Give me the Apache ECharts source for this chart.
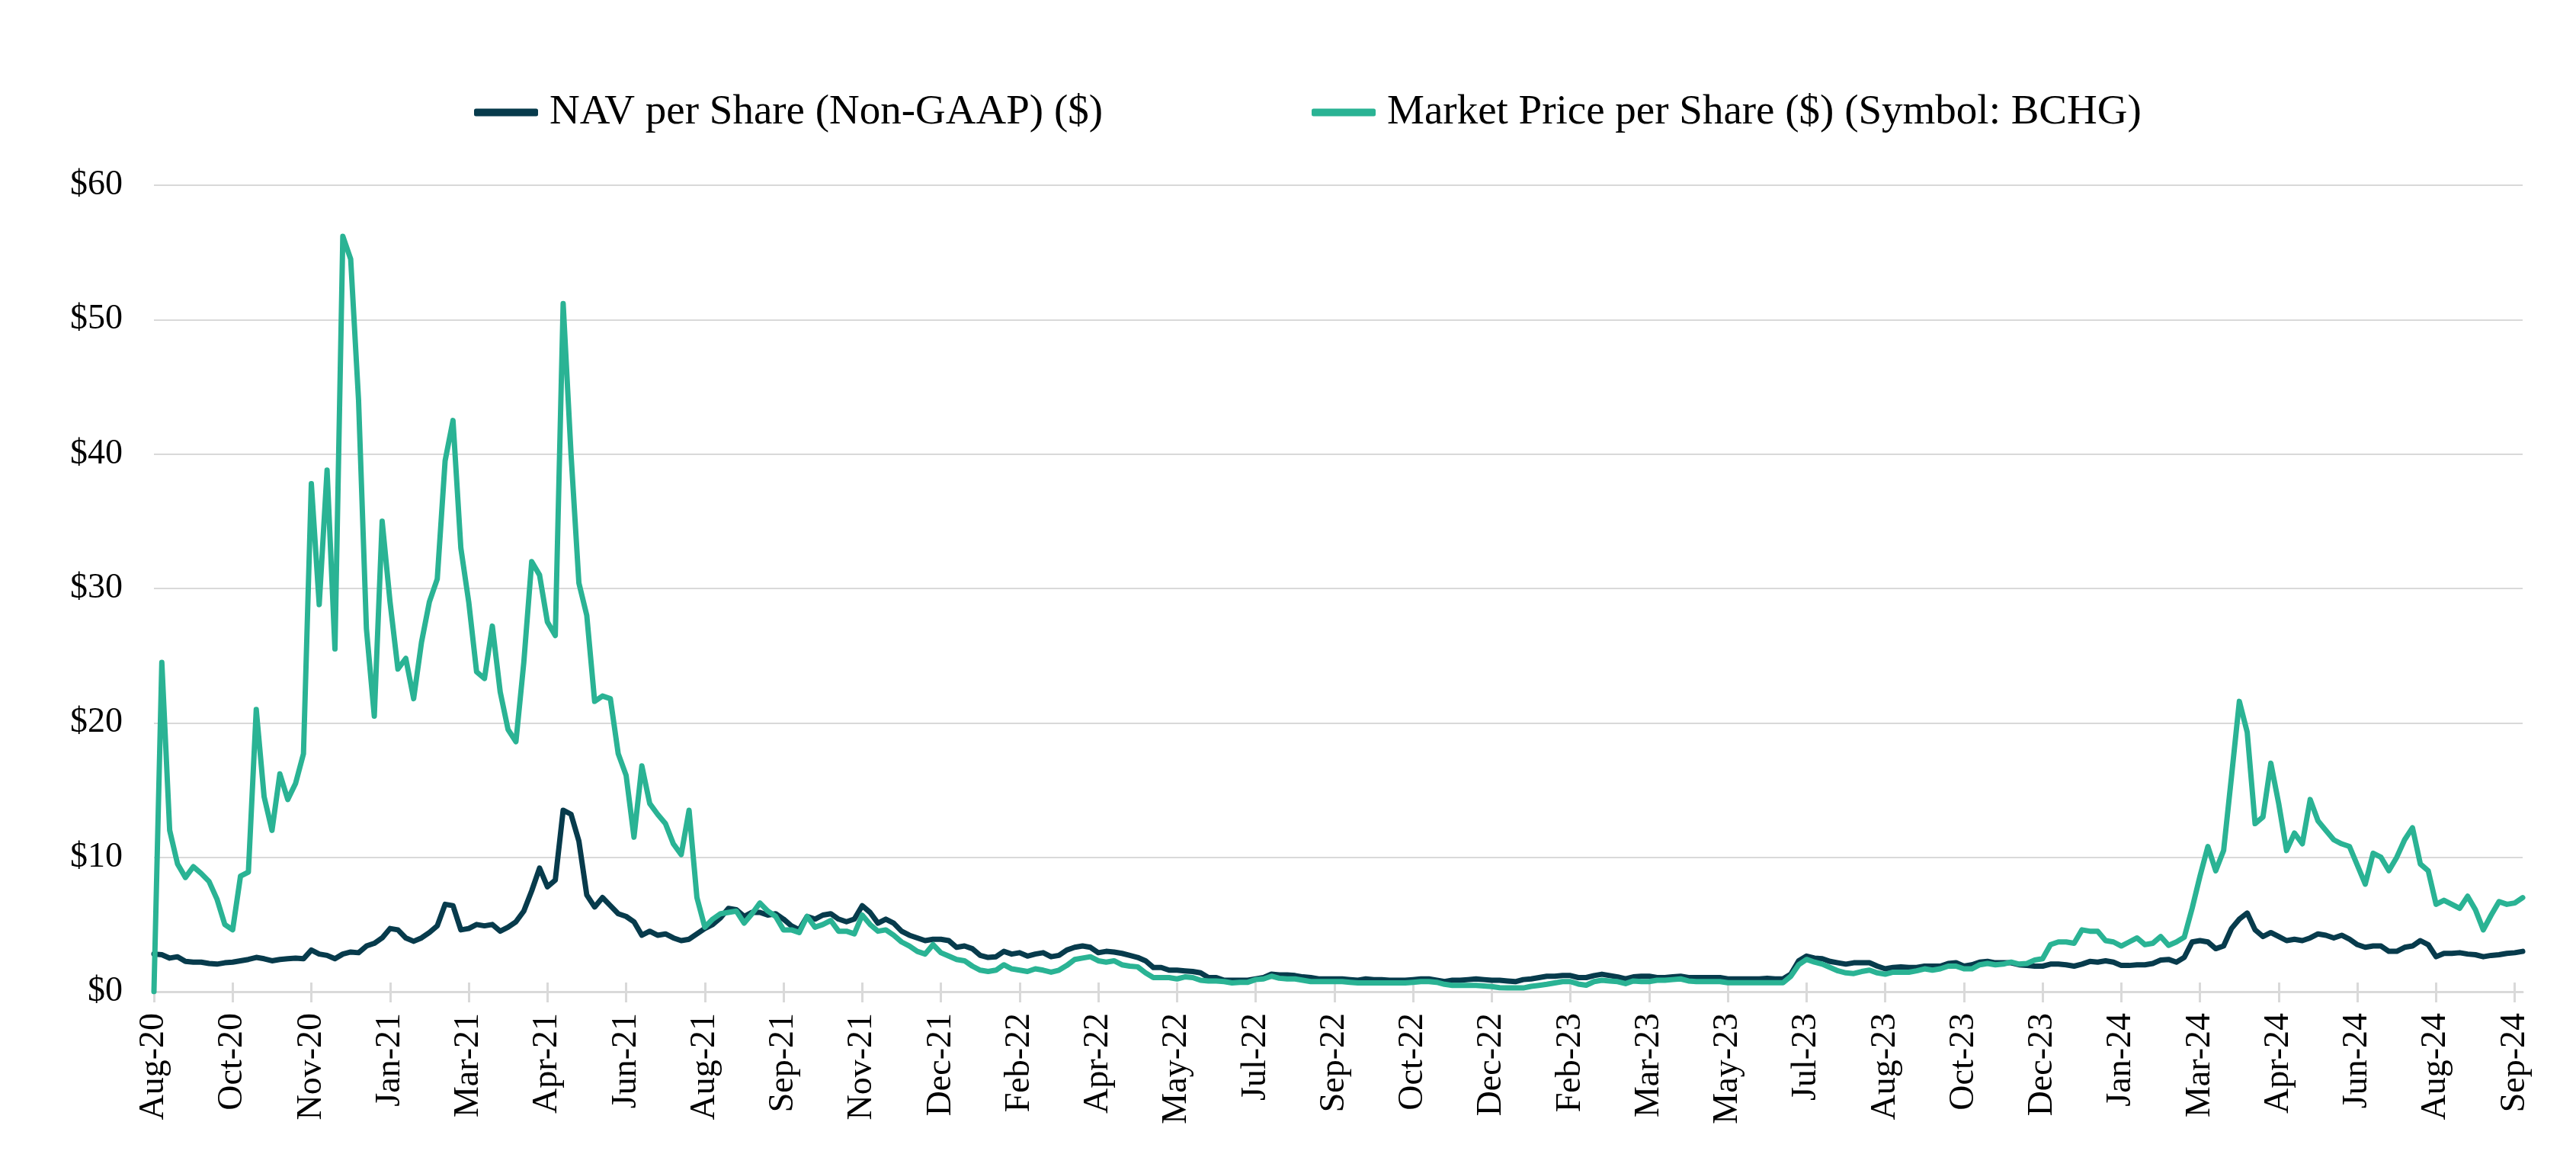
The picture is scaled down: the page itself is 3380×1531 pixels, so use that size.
<!DOCTYPE html>
<html>
<head>
<meta charset="utf-8">
<script src="https://cdn.jsdelivr.net/npm/echarts@6/dist/echarts.min.js"></script>
<style>
html,body{margin:0;padding:0;background:#fff;}
#chart{width:3380px;height:1531px;}
</style>
</head>
<body>
<div id="chart"></div>
<script>
const tickLabels = ['Aug-20','Oct-20','Nov-20','Jan-21','Mar-21','Apr-21','Jun-21','Aug-21','Sep-21','Nov-21',
  'Dec-21','Feb-22','Apr-22','May-22','Jul-22','Sep-22','Oct-22','Dec-22','Feb-23','Mar-23',
  'May-23','Jul-23','Aug-23','Oct-23','Dec-23','Jan-24','Mar-24','Apr-24','Jun-24','Aug-24','Sep-24'];

const navValues = [
  2.8,2.75,2.5,2.6,2.25,2.2,2.2,2.1,2.05,2.15,
  2.2,2.3,2.4,2.55,2.45,2.3,2.4,2.45,2.5,2.45,
  3.1,2.8,2.7,2.45,2.8,2.95,2.9,3.4,3.6,4.0,
  4.7,4.6,4.0,3.75,4.0,4.4,4.9,6.5,6.4,4.6,
  4.7,5.0,4.9,5.0,4.5,4.8,5.2,6.0,7.5,9.2,
  7.8,8.3,13.5,13.2,11.2,7.2,6.3,7.0,6.4,5.8,
  5.6,5.2,4.2,4.5,4.2,4.3,4.0,3.8,3.9,4.3,
  4.7,5.0,5.5,6.2,6.1,5.6,5.9,5.9,5.7,5.8,
  5.4,4.9,4.6,5.6,5.4,5.7,5.8,5.4,5.2,5.4,
  6.4,5.9,5.1,5.4,5.1,4.5,4.2,4.0,3.8,3.9,
  3.9,3.8,3.3,3.4,3.2,2.7,2.55,2.6,3.0,2.8,
  2.9,2.65,2.8,2.9,2.6,2.7,3.1,3.3,3.4,3.3,
  2.9,3.0,2.95,2.85,2.7,2.55,2.3,1.8,1.8,1.6,
  1.6,1.55,1.5,1.4,1.05,1.05,0.85,0.85,0.85,0.85,
  0.95,1.05,1.3,1.25,1.25,1.2,1.1,1.05,0.95,0.95,
  0.95,0.95,0.9,0.85,0.95,0.9,0.9,0.85,0.85,0.85,
  0.9,0.95,0.95,0.85,0.75,0.85,0.85,0.9,0.95,0.9,
  0.85,0.85,0.8,0.75,0.9,0.95,1.05,1.15,1.15,1.2,
  1.2,1.05,1.05,1.2,1.3,1.2,1.1,0.95,1.1,1.15,
  1.15,1.05,1.05,1.1,1.15,1.05,1.05,1.05,1.05,1.05,
  0.95,0.95,0.95,0.95,0.95,1.0,0.95,0.95,1.3,2.3,
  2.65,2.5,2.45,2.25,2.15,2.05,2.15,2.15,2.15,1.9,
  1.7,1.8,1.85,1.8,1.8,1.9,1.9,1.9,2.1,2.15,
  1.9,2.0,2.2,2.25,2.15,2.15,2.15,2.0,1.95,1.9,
  1.9,2.05,2.05,2.0,1.9,2.05,2.25,2.2,2.3,2.2,
  1.95,1.95,2.0,2.0,2.1,2.35,2.4,2.2,2.55,3.7,
  3.8,3.7,3.2,3.4,4.7,5.4,5.85,4.6,4.1,4.4,
  4.1,3.8,3.9,3.8,4.0,4.3,4.2,4.0,4.2,3.9,
  3.5,3.3,3.4,3.4,3.0,3.0,3.3,3.4,3.8,3.5,
  2.6,2.85,2.85,2.9,2.8,2.75,2.6,2.7,2.75,2.85,
  2.9,3.0
];

const marketValues = [
  0,24.5,12,9.5,8.5,9.3,8.8,8.2,6.9,5.0,
  4.6,8.6,8.9,21.0,14.5,12.0,16.2,14.3,15.5,17.7,
  37.8,28.8,38.8,25.5,56.2,54.5,44,27,20.5,35,
  29,24,24.8,21.8,26,29,30.7,39.5,42.5,33,
  29,23.8,23.3,27.2,22.3,19.5,18.6,24.5,32,31,
  27.5,26.5,51.2,40,30.4,28,21.6,22,21.8,17.7,
  16.1,11.5,16.8,14,13.2,12.5,11,10.2,13.5,7,
  4.8,5.4,5.8,5.9,6.0,5.1,5.8,6.6,6.0,5.6,
  4.6,4.6,4.4,5.6,4.8,5.0,5.3,4.5,4.5,4.3,
  5.7,5.0,4.5,4.6,4.2,3.7,3.4,3.0,2.8,3.5,
  2.9,2.65,2.4,2.3,1.9,1.6,1.5,1.6,2.0,1.7,
  1.6,1.5,1.7,1.6,1.45,1.6,1.95,2.4,2.5,2.6,
  2.3,2.2,2.3,2.0,1.9,1.85,1.4,1.05,1.05,1.05,
  0.95,1.1,1.05,0.85,0.8,0.8,0.75,0.65,0.7,0.7,
  0.9,0.95,1.15,1.0,0.95,0.95,0.85,0.75,0.75,0.75,
  0.75,0.75,0.7,0.65,0.65,0.65,0.65,0.65,0.65,0.65,
  0.7,0.75,0.75,0.7,0.55,0.47,0.47,0.47,0.47,0.42,
  0.38,0.3,0.28,0.28,0.28,0.4,0.47,0.55,0.65,0.75,
  0.75,0.57,0.48,0.75,0.85,0.8,0.75,0.6,0.8,0.75,
  0.75,0.85,0.85,0.9,0.95,0.8,0.75,0.75,0.75,0.75,
  0.67,0.66,0.66,0.66,0.66,0.66,0.66,0.66,1.15,2.0,
  2.4,2.2,2.05,1.8,1.55,1.4,1.35,1.5,1.6,1.4,
  1.3,1.45,1.45,1.45,1.55,1.7,1.6,1.7,1.9,1.9,
  1.7,1.7,2.0,2.1,2.0,2.05,2.2,2.05,2.1,2.35,
  2.45,3.5,3.7,3.7,3.6,4.6,4.5,4.5,3.8,3.7,
  3.4,3.7,4.0,3.5,3.6,4.1,3.45,3.7,4.05,6.2,
  8.6,10.8,9.0,10.5,16.0,21.6,19.3,12.5,13.0,17.0,
  14.0,10.5,11.8,11.0,14.3,12.7,12.0,11.3,11.0,10.8,
  9.4,8.0,10.3,10.0,9.0,10.0,11.3,12.2,9.5,9.0,
  6.5,6.8,6.5,6.2,7.1,6.1,4.6,5.7,6.7,6.5,
  6.6,7.0
];

const seriesNames = ['NAV per Share (Non-GAAP) ($)', 'Market Price per Share ($) (Symbol: BCHG)'];
const yTicks = [0, 10, 20, 30, 40, 50, 60];

// one category per sample; only every 10th carries a visible tick label
const categories = navValues.map((_, i) =>
  i % 10 === 0 ? tickLabels[i / 10] : tickLabels[Math.floor(i / 10)] + '|' + (i % 10));

const NAV_COLOR = '#073b4c';
const MKT_COLOR = '#2ab394';
const GRID_COLOR = '#d9d9d9';
const FONT = "'Liberation Serif', 'Times New Roman', serif";

const chart = echarts.init(document.getElementById('chart'), null, { renderer: 'canvas' });
chart.setOption({
  backgroundColor: '#ffffff',
  animation: false,
  legend: [
    {
      data: [seriesNames[0]], left: 617, top: 115,
      icon: 'roundRect', itemWidth: 84, itemHeight: 10,
      textStyle: { fontFamily: FONT, fontSize: 55, color: '#000', padding: [0, 0, 0, 10] }
    },
    {
      data: [seriesNames[1]], left: 1716, top: 115,
      icon: 'roundRect', itemWidth: 84, itemHeight: 10,
      textStyle: { fontFamily: FONT, fontSize: 55, color: '#000', padding: [0, 0, 0, 10] }
    }
  ],
  grid: { left: 202, right: 70, top: 243, bottom: 230, containLabel: false },
  xAxis: [
    {
      type: 'category', data: categories, boundaryGap: false, position: 'bottom',
      axisLine: { show: true, lineStyle: { color: GRID_COLOR, width: 3 } },
      axisTick: { show: true, interval: 9, length: 14, lineStyle: { color: GRID_COLOR, width: 3 } },
      axisLabel: {
        interval: 9, rotate: 90, margin: 28, fontFamily: FONT, fontSize: 46, color: '#000',
        formatter: v => v.split('|')[0]
      },
      splitLine: { show: false }
    },
    {
      type: 'category', data: categories, boundaryGap: false, position: 'bottom', offset: 0,
      axisLine: { show: false },
      axisTick: { show: true, inside: true, interval: 9, length: 12, lineStyle: { color: GRID_COLOR, width: 3 } },
      axisLabel: { show: false },
      splitLine: { show: false }
    }
  ],
  yAxis: {
    type: 'value', min: yTicks[0], max: yTicks[yTicks.length - 1], interval: 10,
    axisLine: { show: false }, axisTick: { show: false },
    axisLabel: { margin: 41, fontFamily: FONT, fontSize: 46, color: '#000', formatter: v => '$' + v },
    splitLine: { show: true, lineStyle: { color: GRID_COLOR, width: 2 } }
  },
  series: [
    {
      name: seriesNames[0], type: 'line', data: navValues, xAxisIndex: 0,
      showSymbol: false, symbol: 'none', smooth: false,
      lineStyle: { color: NAV_COLOR, width: 7, join: 'round', cap: 'round' },
      itemStyle: { color: NAV_COLOR }
    },
    {
      name: seriesNames[1], type: 'line', data: marketValues, xAxisIndex: 0,
      showSymbol: false, symbol: 'none', smooth: false,
      lineStyle: { color: MKT_COLOR, width: 7, join: 'round', cap: 'round' },
      itemStyle: { color: MKT_COLOR }
    }
  ]
});
</script>
</body>
</html>
